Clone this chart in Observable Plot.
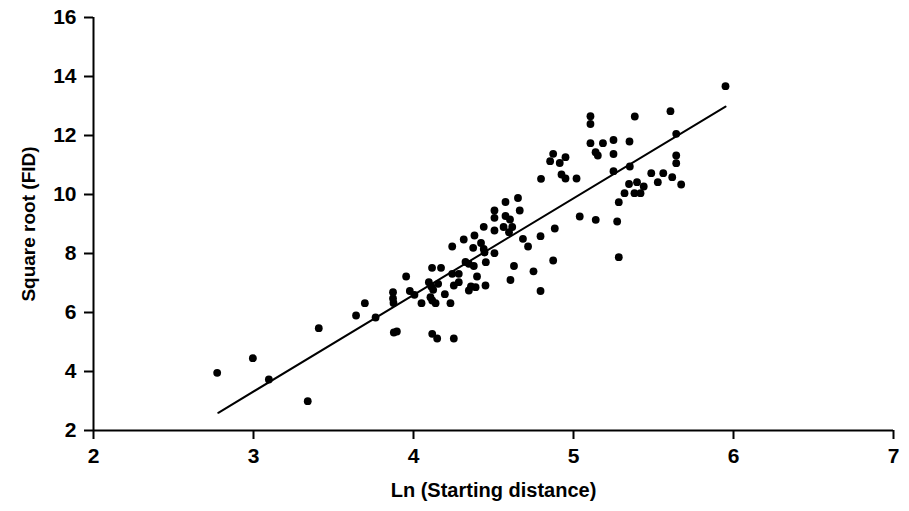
<!DOCTYPE html>
<html>
<head>
<meta charset="utf-8">
<script src="https://cdn.jsdelivr.net/npm/d3@7"></script>
<script src="https://cdn.jsdelivr.net/npm/@observablehq/plot@0.6"></script>
<style>
  html, body { margin: 0; padding: 0; background: #fff; }
</style>
</head>
<body>
<div id="chart"></div>
<script>
// Ln (Starting distance)
const lnStart = [
  2.773, 2.996, 3.096, 3.339, 3.408, 3.641, 3.696, 3.763, 3.872, 3.872,
  3.875, 3.877, 3.896, 3.954, 3.977, 4.006, 4.050, 4.096, 4.111, 4.123,
  4.106, 4.117, 4.138, 4.116, 4.172, 4.154, 4.196, 4.231, 4.117, 4.148,
  4.252, 4.242, 4.283, 4.252, 4.283, 4.325, 4.346, 4.377, 4.452, 4.242,
  4.314, 4.381, 4.373, 4.422, 4.439, 4.444, 4.506, 4.439, 4.506, 4.506,
  4.506, 4.575, 4.653, 4.575, 4.603, 4.664, 4.563, 4.617, 4.597, 4.397,
  4.346, 4.359, 4.388, 4.450, 4.606, 4.628, 4.750, 4.794, 4.684, 4.716,
  4.794, 4.883, 4.873, 4.797, 4.873, 4.854, 4.914, 4.950, 4.925, 4.950,
  5.019, 5.039, 5.139, 5.273, 5.283, 5.106, 5.106, 5.106, 5.184, 5.250,
  5.350, 5.138, 5.152, 5.250, 5.250, 5.352, 5.383, 5.283, 5.319, 5.347,
  5.397, 5.381, 5.419, 5.439, 5.486, 5.561, 5.527, 5.617, 5.673, 5.606,
  5.642, 5.642, 5.642, 5.950
];
// Square root (FID)
const sqrtFid = [
  3.956, 4.451, 3.729, 2.993, 5.468, 5.898, 6.315, 5.831, 6.688, 6.475,
  6.322, 5.322, 5.356, 7.220, 6.729, 6.600, 6.315, 7.027, 6.881, 6.769,
  6.519, 6.407, 6.315, 7.515, 7.515, 6.973, 6.620, 6.315, 5.278, 5.119,
  5.119, 7.312, 7.312, 6.915, 7.027, 7.712, 7.651, 7.576, 7.705, 8.237,
  8.475, 8.610, 8.193, 8.356, 8.153, 8.034, 8.010, 8.905, 8.780, 9.458,
  9.210, 9.746, 9.881, 9.271, 9.153, 9.458, 8.898, 8.898, 8.722, 7.220,
  6.746, 6.881, 6.858, 6.915, 7.102, 7.576, 7.397, 6.729, 8.498, 8.237,
  8.586, 8.847, 7.763, 10.532, 11.380, 11.129, 11.068, 11.264, 10.678, 10.542,
  10.542, 9.254, 9.142, 9.085, 7.875, 12.654, 12.390, 11.739, 11.739, 11.847,
  11.797, 11.434, 11.322, 11.373, 10.790, 10.949, 12.644, 9.739, 10.044, 10.356,
  10.417, 10.044, 10.044, 10.271, 10.722, 10.722, 10.417, 10.586, 10.339, 12.824,
  12.058, 11.322, 11.061, 13.671
];
// Fitted regression line end points
const fitX = [2.78, 5.95];
const fitY = [2.60, 12.98];

const xTicks = [2, 3, 4, 5, 6, 7];
const yTicks = [2, 4, 6, 8, 10, 12, 14, 16];
const xLabel = "Ln (Starting distance)";
const yLabel = "Square root (FID)";

const points = lnStart.map((x, i) => ({x, y: sqrtFid[i]}));
const fit = fitX.map((x, i) => ({x, y: fitY[i]}));
const fmt = d3.format("d");

const chart = Plot.plot({
  width: 909,
  height: 511,
  marginLeft: 93,
  marginRight: 16,
  marginTop: 17,
  marginBottom: 81,
  style: {
    fontFamily: "'Liberation Sans', Arial, sans-serif",
    fontSize: "20px",
    fontWeight: "bold",
    background: "#fff",
    color: "#000",
    overflow: "visible"
  },
  x: {domain: [2, 7]},
  y: {domain: [2, 16]},
  marks: [
    Plot.axisX({
      ticks: xTicks, tickFormat: fmt, tickSize: 9, tickPadding: 9, strokeWidth: 2,
      fontSize: 21, fill: "#000", label: null
    }),
    Plot.axisY({
      ticks: yTicks, tickFormat: fmt, tickSize: 9, tickPadding: 8, strokeWidth: 2,
      fontSize: 21, fill: "#000", label: null
    }),
    Plot.text([xLabel], {frameAnchor: "bottom", dy: 66, fontSize: 20, fontWeight: "bold", fill: "#000", textAnchor: "middle"}),
    Plot.text([yLabel], {frameAnchor: "left", dx: -65, rotate: -90, fontSize: 19, fontWeight: "bold", fill: "#000", textAnchor: "middle"}),
    Plot.ruleY([2], {strokeWidth: 2}),
    Plot.ruleX([2], {strokeWidth: 2}),
    Plot.line(fit, {x: "x", y: "y", stroke: "#000", strokeWidth: 2}),
    Plot.dot(points, {x: "x", y: "y", r: 3.9, fill: "#000", stroke: "none"})
  ]
});
document.getElementById("chart").appendChild(chart);
</script>
</body>
</html>
